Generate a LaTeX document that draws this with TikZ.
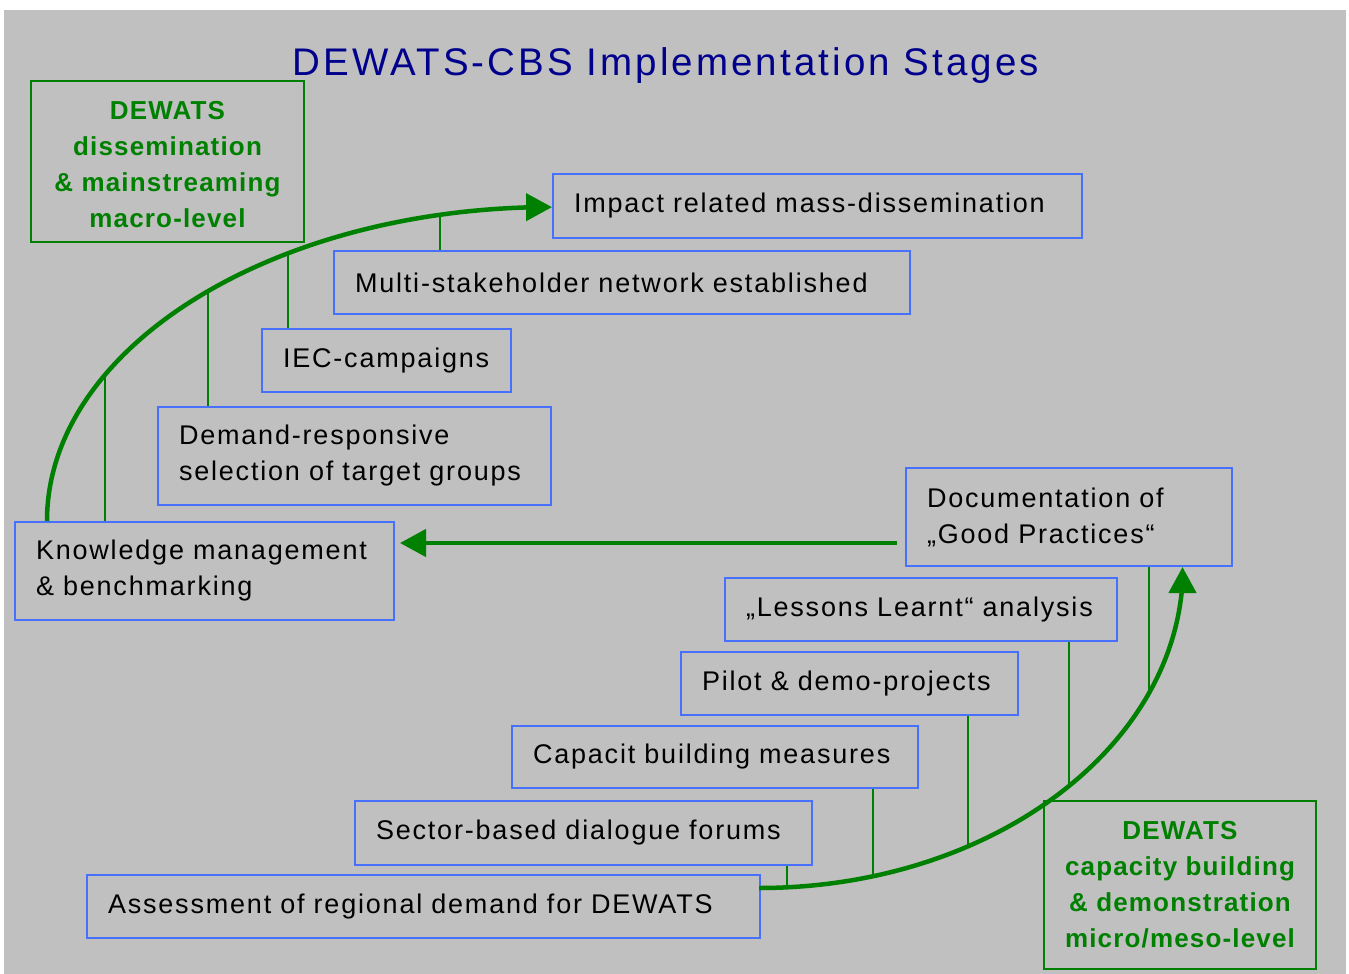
\documentclass[tikz,border=0pt]{standalone}
\usepackage{fontspec}
\setmainfont{Liberation Sans}[LetterSpace=6.7]
\newfontfamily\titlefont{Liberation Sans}[LetterSpace=8]
\newfontfamily\levelfont{Liberation Sans}[LetterSpace=4.5]
\usetikzlibrary{arrows.meta}
\definecolor{bg}{RGB}{192,192,192}
\definecolor{boxblue}{RGB}{72,112,255}
\definecolor{dgreen}{RGB}{0,128,0}
\definecolor{navy}{RGB}{0,0,140}
\tikzset{
  stagebox/.style={draw=boxblue, line width=2pt, anchor=north west, inner xsep=21pt, inner ysep=0pt, align=left, text=black, font=\fontsize{27}{36}\selectfont},
  levelframe/.style={draw=dgreen, line width=2pt, anchor=north west, inner sep=0pt},
  leveltext/.style={inner sep=0pt, align=center, text=dgreen, font=\levelfont\fontsize{26}{36}\selectfont\bfseries},
  bigline/.style={draw=dgreen, line width=4.5pt},
  bigarrow/.style={draw=dgreen, line width=4.5pt, -{Triangle[length=26pt,width=27pt]}},
  thinline/.style={draw=dgreen, line width=2pt},
}
\begin{document}
\begin{tikzpicture}[x=1pt,y=-1pt]
\useasboundingbox (0,0) rectangle (1349,974);
\fill[white] (0,0) rectangle (1349,974);
\fill[bg] (4,10) rectangle (1346,974);

\node[text=navy, font=\titlefont\fontsize{38.5}{40}\selectfont] (title) at (666,66) {DEWATS-CBS Implementation Stages};

\node[levelframe, minimum width=273pt, minimum height=161pt] (macro) at (30,80) {};
\node[leveltext] (macrotext) at ([yshift=-3pt]macro.center) {DEWATS\\dissemination\\\& mainstreaming\\macro-level};
\node[levelframe, minimum width=272pt, minimum height=168pt] (micro) at (1043,800) {};
\node[leveltext] (microtext) at (micro.center) {DEWATS\\capacity building\\\& demonstration\\micro/meso-level};

\node[stagebox, minimum height=64pt, text width=487pt] (impact) at (552,173) {Impact related mass-dissemination};
\node[stagebox, minimum height=63pt, text width=534pt] (multi) at (333,250) {Multi-stakeholder network established};
\node[stagebox, minimum height=63pt, text width=207pt] (iec) at (261,328) {IEC-campaigns};
\node[stagebox, minimum height=98pt, text width=351pt] (demand) at (157,406) {Demand-responsive\\selection of target groups};
\node[stagebox, minimum height=98pt, text width=337pt] (know) at (14,521) {Knowledge management\\\& benchmarking};
\node[stagebox, minimum height=98pt, text width=284pt] (doc) at (905,467) {Documentation of\\„Good Practices“};
\node[stagebox, minimum height=63pt, text width=350pt] (lessons) at (724,577) {„Lessons Learnt“ analysis};
\node[stagebox, minimum height=63pt, text width=295pt] (pilot) at (680,651) {Pilot \& demo-projects};
\node[stagebox, minimum height=62pt, text width=364pt] (capac) at (511,725) {Capacit building measures};
\node[stagebox, minimum height=64pt, text width=415pt] (sector) at (354,800) {Sector-based dialogue forums};
\node[stagebox, minimum height=63pt, text width=631pt] (assess) at (86,874) {Assessment of regional demand for DEWATS};

% upper curve
\coordinate (u0) at (47,521);
\coordinate (u1) at (105,375.6);
\coordinate (u2) at (208,291);
\coordinate (u3) at (288,253.3);
\coordinate (u4) at (440,214.8);
\draw[thinline] (u1) -- (u1 |- know.north);
\draw[thinline] (u2) -- (u2 |- demand.north);
\draw[thinline] (u3) -- (u3 |- iec.north);
\draw[thinline] (u4) -- (u4 |- multi.north);
\draw[bigline] (u0) arc[start angle=180, end angle=91.7, x radius=505pt, y radius=314pt] coordinate (ue);
\draw[bigarrow] (ue) -- (impact.west |- ue);

% lower curve
\coordinate (l0) at (759,888);
\coordinate (l1) at (787,887.7);
\coordinate (l2) at (873,876.2);
\coordinate (l3) at (968,846.3);
\coordinate (l4) at (1069,786);
\coordinate (l5) at (1149,692.9);
\coordinate (lt) at (1183,567);
\draw[thinline] (l1) -- (l1 |- sector.south);
\draw[thinline] (l2) -- (l2 |- capac.south);
\draw[thinline] (l3) -- (l3 |- pilot.south);
\draw[thinline] (l4) -- (l4 |- lessons.south);
\draw[thinline] (l5) -- (l5 |- doc.south);
\draw[bigline] (l0) arc[start angle=270, end angle=357.3, x radius=424pt, y radius=321pt] coordinate (le);
\draw[bigarrow] (le) -- (le |- lt);

% straight arrow
\coordinate (s0) at (897,543);
\draw[bigarrow] (s0) -- ([xshift=5pt]know.east |- s0);
\end{tikzpicture}
\end{document}
